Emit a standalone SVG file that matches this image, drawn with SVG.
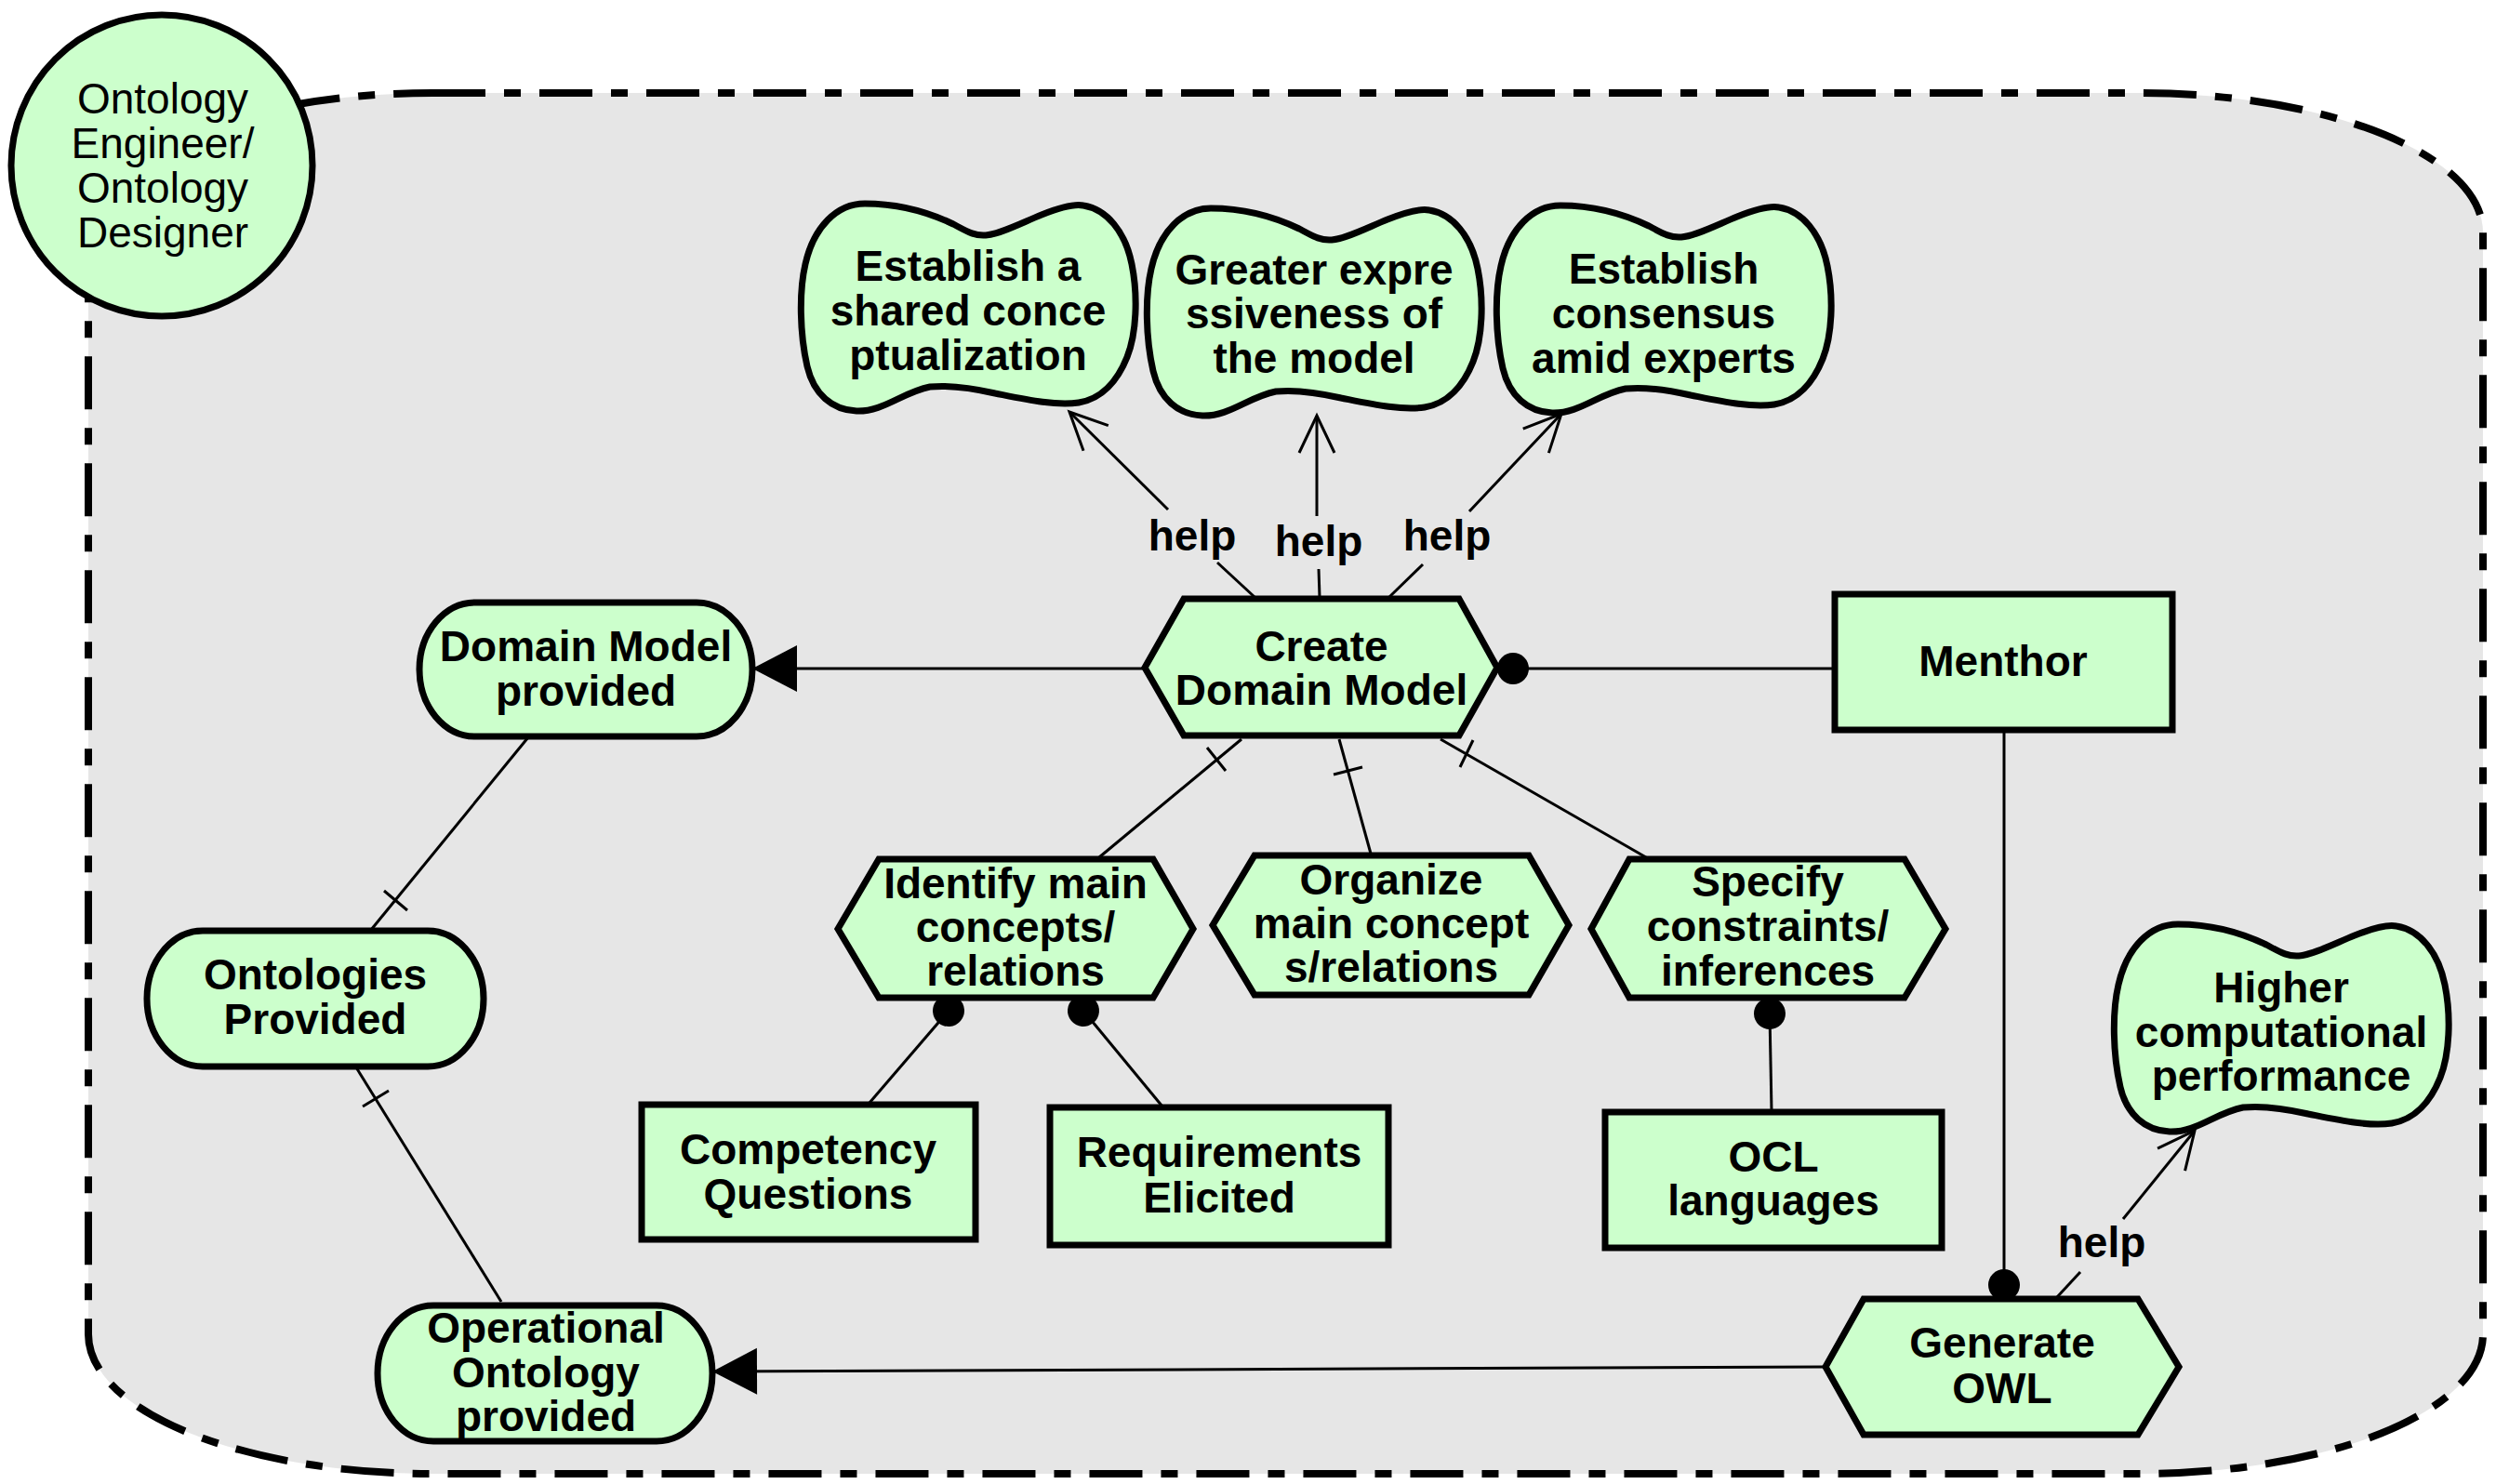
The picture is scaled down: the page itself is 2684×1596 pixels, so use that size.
<svg xmlns="http://www.w3.org/2000/svg" width="2684" height="1596" viewBox="0 0 2684 1596">
<style>
.node{fill:#ccffcc;stroke:#000;stroke-width:7;stroke-linejoin:miter}
.t{font-family:"Liberation Sans",Arial,sans-serif;font-size:46px;font-weight:bold;text-anchor:middle;fill:#000}
.tr{font-family:"Liberation Sans",Arial,sans-serif;font-size:46px;text-anchor:middle;fill:#000}
.c{fill:none;stroke:#000;stroke-width:3}
</style>
<defs>
<path id="cloud" d="M61,223 C35,222 15,205 8,175 C0,140 -1,95 6,65 C15,25 40,0 70,0 C110,0 140,10 165,22 C180,30 188,35 200,34 C215,33 240,20 260,12 C280,4 295,0 305,2 C330,6 350,30 357,65 C364,100 362,140 352,165 C342,190 325,210 300,214 C275,218 240,210 210,204 C180,197 160,195 140,197 C110,203 90,224 61,223 Z"/>
<marker id="tri" markerUnits="userSpaceOnUse" viewBox="-50 -30 60 60" refX="0" refY="0" markerWidth="60" markerHeight="60" orient="auto" overflow="visible">
<path d="M0,0 L-48,-25 L-48,25 Z" fill="#000"/>
</marker>
<marker id="open" markerUnits="userSpaceOnUse" viewBox="-50 -30 60 60" refX="0" refY="0" markerWidth="60" markerHeight="60" orient="auto" overflow="visible">
<path d="M-40,-19 L0,0 L-40,19" fill="none" stroke="#000" stroke-width="3"/>
</marker>
<marker id="dot" markerUnits="userSpaceOnUse" viewBox="-20 -20 40 40" refX="0" refY="0" markerWidth="40" markerHeight="40" orient="auto" overflow="visible">
<circle cx="0" cy="0" r="17" fill="#000"/>
</marker>
</defs>

<g id="container">
<rect x="95" y="100" width="2575" height="1485" rx="370" ry="150" fill="#e6e6e6" stroke="#000" stroke-width="8" stroke-dasharray="57 20 18 20"/>
</g>

<g id="connectors">
<line class="c" x1="1231" y1="719" x2="809" y2="719" marker-end="url(#tri)"/>
<line class="c" x1="1973" y1="719" x2="1627" y2="719" marker-end="url(#dot)"/>
<line class="c" x1="2155" y1="785" x2="2155" y2="1382" marker-end="url(#dot)"/>
<line class="c" x1="1963" y1="1470" x2="766" y2="1475" marker-end="url(#tri)"/>
<line class="c" x1="568" y1="793" x2="399" y2="1000"/>
<line class="c" x1="413" y1="958" x2="438" y2="979"/>
<line class="c" x1="383" y1="1148" x2="539" y2="1400"/>
<line class="c" x1="390" y1="1190" x2="418" y2="1173"/>
<line class="c" x1="1335" y1="795" x2="1182" y2="922"/>
<line class="c" x1="1298" y1="804" x2="1318" y2="829"/>
<line class="c" x1="1440" y1="795" x2="1474" y2="918"/>
<line class="c" x1="1434" y1="833" x2="1465" y2="825"/>
<line class="c" x1="1549" y1="795" x2="1770" y2="922"/>
<line class="c" x1="1570" y1="825" x2="1584" y2="796"/>
<line class="c" x1="935" y1="1186" x2="1020" y2="1087" marker-end="url(#dot)"/>
<line class="c" x1="1250" y1="1190" x2="1165" y2="1087" marker-end="url(#dot)"/>
<line class="c" x1="1905" y1="1195" x2="1903" y2="1090" marker-end="url(#dot)"/>
<line class="c" x1="1349" y1="642" x2="1309" y2="605"/>
<line class="c" x1="1256" y1="548" x2="1150" y2="443" marker-end="url(#open)"/>
<line class="c" x1="1419" y1="642" x2="1418" y2="612"/>
<line class="c" x1="1416" y1="555" x2="1416" y2="447" marker-end="url(#open)"/>
<line class="c" x1="1494" y1="642" x2="1530" y2="607"/>
<line class="c" x1="1580" y1="550" x2="1679" y2="445" marker-end="url(#open)"/>
<line class="c" x1="2212" y1="1395" x2="2237" y2="1368"/>
<line class="c" x1="2283" y1="1311" x2="2360" y2="1216" marker-end="url(#open)"/>
<text class="t" x="1282" y="592">help</text>
<text class="t" x="1418" y="598">help</text>
<text class="t" x="1556" y="592">help</text>
<text class="t" x="2260" y="1352">help</text>
</g>

<g id="actor">
<circle class="node" cx="174" cy="178" r="162"/>
<text class="tr" x="175"><tspan x="175" y="122">Ontology</tspan><tspan x="175" y="170">Engineer/</tspan><tspan x="175" y="218">Ontology</tspan><tspan x="175" y="266">Designer</tspan></text>
</g>

<g id="goal-shared">
<use href="#cloud" class="node" x="860" y="219"/>
<text class="t"><tspan x="1041" y="302">Establish a</tspan><tspan x="1041" y="350">shared conce</tspan><tspan x="1041" y="398">ptualization</tspan></text>
</g>
<g id="goal-expressiveness">
<use href="#cloud" class="node" x="1232" y="224"/>
<text class="t"><tspan x="1413" y="306">Greater expre</tspan><tspan x="1413" y="353">ssiveness of</tspan><tspan x="1413" y="401">the model</tspan></text>
</g>
<g id="goal-consensus">
<use href="#cloud" class="node" x="1608" y="221"/>
<text class="t"><tspan x="1789" y="305">Establish</tspan><tspan x="1789" y="353">consensus</tspan><tspan x="1789" y="401">amid experts</tspan></text>
</g>
<g id="goal-performance">
<use href="#cloud" class="node" x="2272" y="994"/>
<text class="t"><tspan x="2453" y="1078">Higher</tspan><tspan x="2453" y="1126">computational</tspan><tspan x="2453" y="1173">performance</tspan></text>
</g>

<g id="domain-model-provided">
<rect class="node" x="451" y="648" width="358" height="144" rx="60" ry="72"/>
<text class="t"><tspan x="630" y="711">Domain Model</tspan><tspan x="630" y="759">provided</tspan></text>
</g>
<g id="ontologies-provided">
<rect class="node" x="158" y="1001" width="362" height="146" rx="60" ry="73"/>
<text class="t"><tspan x="339" y="1064">Ontologies</tspan><tspan x="339" y="1112">Provided</tspan></text>
</g>
<g id="operational-ontology-provided">
<rect class="node" x="406" y="1404" width="360" height="146" rx="60" ry="73"/>
<text class="t"><tspan x="587" y="1444">Operational</tspan><tspan x="587" y="1492">Ontology</tspan><tspan x="587" y="1539">provided</tspan></text>
</g>

<g id="create-domain-model">
<polygon class="node" points="1231,718 1273,644 1569,644 1610,718 1569,791 1273,791"/>
<text class="t"><tspan x="1421" y="711">Create</tspan><tspan x="1421" y="758">Domain Model</tspan></text>
</g>
<g id="identify">
<polygon class="node" points="901,999 945,924 1240,924 1283,999 1240,1073 945,1073"/>
<text class="t"><tspan x="1092" y="966">Identify main</tspan><tspan x="1092" y="1013">concepts/</tspan><tspan x="1092" y="1060">relations</tspan></text>
</g>
<g id="organize">
<polygon class="node" points="1304,995 1349,920 1644,920 1687,995 1644,1070 1349,1070"/>
<text class="t"><tspan x="1496" y="962">Organize</tspan><tspan x="1496" y="1009">main concept</tspan><tspan x="1496" y="1056">s/relations</tspan></text>
</g>
<g id="specify">
<polygon class="node" points="1711,999 1752,924 2048,924 2092,999 2048,1073 1752,1073"/>
<text class="t"><tspan x="1901" y="964">Specify</tspan><tspan x="1901" y="1012">constraints/</tspan><tspan x="1901" y="1060">inferences</tspan></text>
</g>
<g id="generate-owl">
<polygon class="node" points="1963,1470 2004,1397 2299,1397 2343,1470 2299,1543 2004,1543"/>
<text class="t"><tspan x="2153" y="1460">Generate</tspan><tspan x="2153" y="1509">OWL</tspan></text>
</g>

<g id="menthor">
<rect class="node" x="1973" y="639" width="363" height="146"/>
<text class="t" x="2154" y="727">Menthor</text>
</g>
<g id="competency-questions">
<rect class="node" x="690" y="1188" width="359" height="145"/>
<text class="t"><tspan x="869" y="1252">Competency</tspan><tspan x="869" y="1300">Questions</tspan></text>
</g>
<g id="requirements-elicited">
<rect class="node" x="1129" y="1191" width="364" height="148"/>
<text class="t"><tspan x="1311" y="1255">Requirements</tspan><tspan x="1311" y="1304">Elicited</tspan></text>
</g>
<g id="ocl-languages">
<rect class="node" x="1726" y="1196" width="362" height="146"/>
<text class="t"><tspan x="1907" y="1260">OCL</tspan><tspan x="1907" y="1307">languages</tspan></text>
</g>
</svg>
